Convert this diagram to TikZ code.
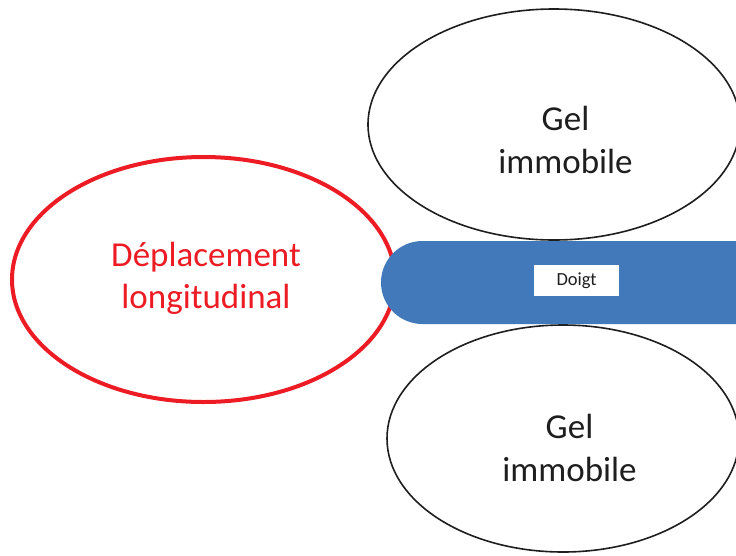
\documentclass[tikz,border=0pt]{standalone}
\usepackage{fontspec}
\setmainfont{Carlito}
\usetikzlibrary{shapes.geometric}
\definecolor{redline}{HTML}{ED1C24}
\definecolor{fingerblue}{HTML}{4179BB}
\definecolor{ink}{HTML}{1E1E1E}
\tikzset{
  gelshape/.style={ellipse, draw=ink, line width=1.6pt, fill=white, inner sep=0pt},
  moveshape/.style={ellipse, draw=redline, line width=4pt, fill=white, inner sep=0pt},
  fingershape/.style={rectangle, fill=fingerblue, rounded corners=41.5pt, inner sep=0pt},
  tagbox/.style={rectangle, fill=white, inner sep=0pt, text=ink, font=\fontsize{18.5}{22}\selectfont},
  biglabel/.style={align=center, inner sep=0pt, font=\fontsize{35}{43}\selectfont},
}
\begin{document}
\begin{tikzpicture}[x=1pt,y=-1pt]
\useasboundingbox (0,0) rectangle (736,555);
\clip (0,0) rectangle (736,555);
\fill[white] (0,0) rectangle (736,555);
% ellipses
\node[moveshape, minimum width=383pt, minimum height=245pt] (move) at (203.5,279.5) {};
\node[gelshape, minimum width=372pt, minimum height=231pt] (gelA) at (554,124.5) {};
\node[gelshape, minimum width=352pt, minimum height=227pt] (gelB) at (563,438.5) {};
% finger
\node[fingershape, minimum width=419pt, minimum height=83pt] (finger) at (590.5,282.5) {};
\node[tagbox, minimum width=85pt, minimum height=31pt] (doigt) at (576.5,280.5) {Doigt};
% labels
\node[biglabel, text=redline, font=\fontsize{35}{42}\selectfont] (moveText) at (206,278.5) {Déplacement\\longitudinal};
\node[biglabel, text=ink] (gelAText) at (565.5,139.5) {Gel\\immobile};
\node[biglabel, text=ink] (gelBText) at (569.5,448) {Gel\\immobile};
\end{tikzpicture}
\end{document}
